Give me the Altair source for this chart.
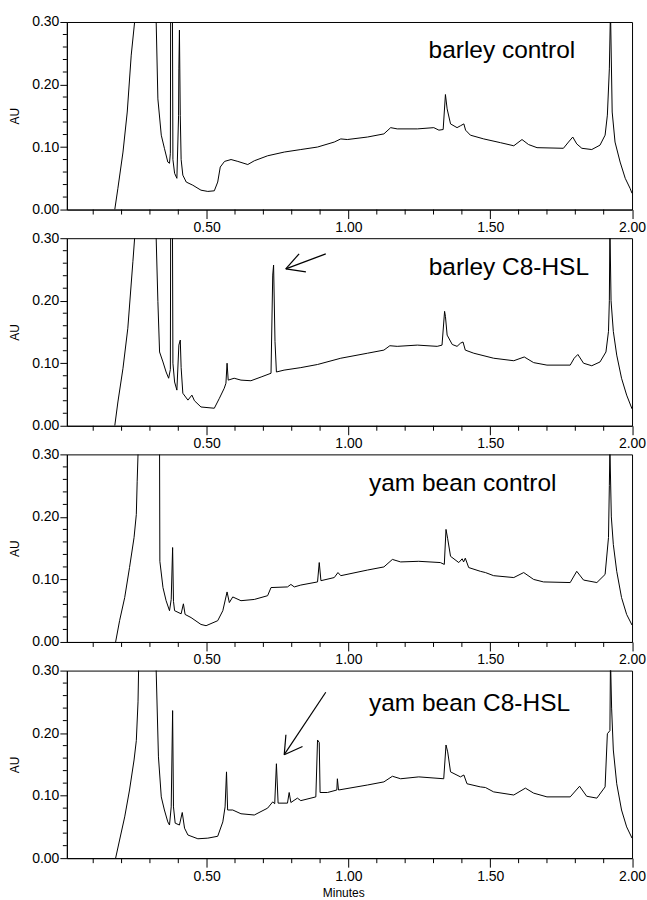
import altair as alt
import pandas as pd

# ---------------- data ----------------
p1_t = [0.176, 0.187, 0.205, 0.220, 0.234, 0.246, 0.250, 0.285, 0.318, 0.322, 0.328, 0.340, 0.351, 0.363, 0.369,
        0.372, 0.3745, 0.3775, 0.381, 0.387, 0.395, 0.401, 0.402, 0.404, 0.407, 0.410, 0.416, 0.428, 0.451, 0.480,
        0.504, 0.527, 0.539, 0.548, 0.563, 0.586, 0.610, 0.645, 0.668, 0.715, 0.774, 0.832, 0.891, 0.950, 0.973,
        0.996, 1.067, 1.125, 1.149, 1.172, 1.243, 1.301, 1.319, 1.334, 1.342, 1.348, 1.360, 1.383, 1.395, 1.407,
        1.413, 1.430, 1.477, 1.536, 1.583, 1.612, 1.635, 1.665, 1.758, 1.776, 1.791, 1.805, 1.823, 1.858, 1.887,
        1.905, 1.913, 1.920, 1.924, 1.930, 1.940, 1.958, 1.976, 1.993, 2.000]
p1_au = [0.000, 0.034, 0.092, 0.156, 0.247, 0.300, 0.500, 2.000, 0.500, 0.300, 0.177, 0.119, 0.098, 0.076, 0.074,
         0.090, 0.600, 0.600, 0.080, 0.058, 0.050, 0.150, 0.225, 0.287, 0.150, 0.080, 0.055, 0.044, 0.039, 0.031,
         0.029, 0.030, 0.044, 0.068, 0.077, 0.080, 0.077, 0.072, 0.078, 0.086, 0.092, 0.096, 0.100, 0.108, 0.113,
         0.112, 0.116, 0.121, 0.131, 0.129, 0.129, 0.131, 0.127, 0.128, 0.184, 0.161, 0.137, 0.131, 0.134, 0.137,
         0.127, 0.119, 0.113, 0.107, 0.102, 0.112, 0.104, 0.099, 0.098, 0.108, 0.116, 0.105, 0.098, 0.096, 0.103,
         0.119, 0.151, 0.225, 0.320, 0.156, 0.108, 0.076, 0.050, 0.034, 0.026]

p2_t = [0.176, 0.187, 0.205, 0.222, 0.240, 0.246, 0.250, 0.285, 0.318, 0.322, 0.328, 0.334, 0.346, 0.357, 0.366,
        0.372, 0.3745, 0.3775, 0.381, 0.387, 0.395, 0.402, 0.407, 0.410, 0.416, 0.434, 0.448, 0.457, 0.480, 0.527,
        0.545, 0.562, 0.568, 0.572, 0.576, 0.597, 0.621, 0.656, 0.692, 0.727, 0.733, 0.736, 0.741, 0.746, 0.773,
        0.832, 0.891, 0.973, 1.067, 1.125, 1.146, 1.172, 1.243, 1.313, 1.330, 1.339, 1.342, 1.348, 1.366, 1.383,
        1.395, 1.404, 1.412, 1.442, 1.512, 1.583, 1.620, 1.653, 1.700, 1.782, 1.796, 1.809, 1.829, 1.858, 1.887,
        1.908, 1.917, 1.920, 1.922, 1.926, 1.934, 1.946, 1.963, 1.981, 2.000]
p2_au = [0.000, 0.038, 0.092, 0.156, 0.263, 0.300, 0.500, 2.000, 0.500, 0.300, 0.199, 0.118, 0.102, 0.086, 0.076,
         0.090, 0.600, 0.600, 0.100, 0.070, 0.057, 0.129, 0.137, 0.093, 0.052, 0.041, 0.049, 0.040, 0.030, 0.028,
         0.044, 0.060, 0.068, 0.100, 0.073, 0.076, 0.073, 0.072, 0.078, 0.084, 0.241, 0.257, 0.135, 0.086, 0.089,
         0.093, 0.098, 0.108, 0.116, 0.121, 0.128, 0.127, 0.129, 0.127, 0.129, 0.183, 0.175, 0.145, 0.130, 0.127,
         0.132, 0.134, 0.121, 0.116, 0.108, 0.104, 0.110, 0.101, 0.097, 0.097, 0.108, 0.114, 0.100, 0.096, 0.102,
         0.118, 0.151, 0.200, 0.320, 0.200, 0.151, 0.113, 0.076, 0.049, 0.027]

p3_t = [0.179, 0.193, 0.211, 0.228, 0.244, 0.252, 0.255, 0.258, 0.262, 0.295, 0.333, 0.334, 0.335, 0.346, 0.357,
        0.369, 0.375, 0.380, 0.383, 0.387, 0.410, 0.418, 0.424, 0.445, 0.480, 0.498, 0.539, 0.557, 0.572, 0.580,
        0.592, 0.621, 0.668, 0.715, 0.727, 0.785, 0.797, 0.809, 0.832, 0.891, 0.897, 0.903, 0.950, 0.963, 0.973,
        1.067, 1.125, 1.155, 1.184, 1.248, 1.324, 1.338, 1.344, 1.350, 1.360, 1.389, 1.401, 1.406, 1.412, 1.424,
        1.465, 1.483, 1.512, 1.583, 1.618, 1.653, 1.688, 1.782, 1.805, 1.829, 1.876, 1.905, 1.917, 1.920, 1.922,
        1.927, 1.934, 1.946, 1.963, 1.981, 2.000]
p3_au = [0.000, 0.034, 0.071, 0.119, 0.167, 0.204, 0.257, 0.300, 0.500, 2.000, 0.500, 0.300, 0.129, 0.087, 0.066,
         0.050, 0.068, 0.151, 0.065, 0.050, 0.045, 0.061, 0.044, 0.039, 0.028, 0.026, 0.034, 0.050, 0.080, 0.063,
         0.072, 0.066, 0.068, 0.074, 0.087, 0.088, 0.092, 0.088, 0.091, 0.096, 0.127, 0.098, 0.103, 0.111, 0.106,
         0.115, 0.120, 0.132, 0.128, 0.129, 0.127, 0.124, 0.180, 0.165, 0.137, 0.127, 0.133, 0.128, 0.134, 0.119,
         0.113, 0.111, 0.106, 0.103, 0.111, 0.100, 0.096, 0.095, 0.113, 0.099, 0.095, 0.108, 0.167, 0.250, 0.310,
         0.200, 0.156, 0.113, 0.071, 0.044, 0.027]

p4_t = [0.179, 0.193, 0.211, 0.228, 0.244, 0.252, 0.258, 0.260, 0.264, 0.290, 0.318, 0.322, 0.330, 0.340, 0.351,
        0.363, 0.369, 0.375, 0.380, 0.383, 0.389, 0.404, 0.414, 0.422, 0.434, 0.469, 0.504, 0.539, 0.557, 0.565,
        0.570, 0.574, 0.592, 0.621, 0.668, 0.715, 0.733, 0.740, 0.746, 0.752, 0.785, 0.791, 0.797, 0.820, 0.832,
        0.885, 0.891, 0.897, 0.900, 0.926, 0.959, 0.961, 0.965, 1.067, 1.125, 1.155, 1.184, 1.248, 1.336, 1.344,
        1.350, 1.360, 1.395, 1.407, 1.418, 1.465, 1.483, 1.512, 1.583, 1.624, 1.653, 1.700, 1.782, 1.815, 1.840,
        1.876, 1.905, 1.913, 1.922, 1.924, 1.928, 1.934, 1.946, 1.963, 1.981, 2.000]
p4_au = [0.000, 0.029, 0.066, 0.109, 0.157, 0.188, 0.250, 0.300, 0.500, 2.000, 0.500, 0.300, 0.162, 0.098, 0.077,
         0.058, 0.053, 0.082, 0.236, 0.082, 0.056, 0.053, 0.073, 0.048, 0.037, 0.031, 0.032, 0.035, 0.058, 0.082,
         0.138, 0.077, 0.077, 0.071, 0.069, 0.080, 0.090, 0.087, 0.151, 0.088, 0.088, 0.105, 0.089, 0.096, 0.092,
         0.098, 0.189, 0.185, 0.105, 0.105, 0.109, 0.127, 0.109, 0.117, 0.122, 0.131, 0.127, 0.130, 0.127, 0.181,
         0.170, 0.138, 0.130, 0.133, 0.119, 0.114, 0.113, 0.106, 0.101, 0.112, 0.104, 0.098, 0.098, 0.115, 0.099,
         0.096, 0.114, 0.199, 0.204, 0.320, 0.240, 0.173, 0.119, 0.077, 0.050, 0.032]

panel_labels = ["barley control", "barley C8-HSL", "yam bean control", "yam bean C8-HSL"]
label_t = [1.2825, 1.283, 1.0725, 1.0725]
label_au = [0.2426, 0.2415, 0.241, 0.236]

# arrow segments (t, au, t2, au2) per panel
arrows = {
    1: [(0.920, 0.275, 0.779, 0.251), (0.826, 0.275, 0.779, 0.251), (0.850, 0.246, 0.779, 0.251)],
    3: [(0.920, 0.2654, 0.7735, 0.1655), (0.7795, 0.1974, 0.7735, 0.1655), (0.838, 0.1787, 0.7735, 0.1655)],
}

x_major_ticks = [0.5, 1.0, 1.5, 2.0]
x_minor_ticks = [0.1, 0.2, 0.3, 0.4, 0.6, 0.7, 0.8, 0.9, 1.1, 1.2, 1.3, 1.4, 1.6, 1.7, 1.8, 1.9]
y_major_ticks = [0.0, 0.1, 0.2, 0.3]
y_minor_ticks = [0.02, 0.04, 0.06, 0.08, 0.12, 0.14, 0.16, 0.18, 0.22, 0.24, 0.26, 0.28]

series = [(p1_t, p1_au), (p2_t, p2_au), (p3_t, p3_au), (p4_t, p4_au)]

W, H = 566.5, 188
FONT = "Liberation Sans"
X_MINOR_LEN, Y_MINOR_LEN = 5, 4


def make_panel(i):
    ts, aus = series[i]
    df = pd.DataFrame({"t": ts, "au": aus})
    last = i == 3
    xaxis = alt.Axis(
        values=x_major_ticks,
        format=".2f",
        tickSize=9,
        labelOverlap=False,
        labelFlush=False,
        labelPadding=2,
        grid=False,
        titleFontSize=12,
        titleFont=FONT,
        titleFontWeight="normal",
        titlePadding=4,
        titleX=277,
    )
    yaxis = alt.Axis(
        values=y_major_ticks,
        format=".2f",
        tickSize=7,
        labelOverlap=False,
        labelFlush=False,
        labelPadding=1,
        grid=False,
        titleFontSize=12,
        titleFont=FONT,
        titleFontWeight="normal",
        titlePadding=10.5,
    )
    xs = alt.Scale(domain=[0.007, 2.0], nice=False, zero=False)
    ys = alt.Scale(domain=[0.0, 0.3], nice=False)
    line = alt.Chart(df).mark_line(color="black", strokeWidth=1, clip=True).encode(
        x=alt.X("t:Q", scale=xs, axis=xaxis, title="Minutes" if last else None),
        y=alt.Y("au:Q", scale=ys, axis=yaxis, title="AU"),
    )
    # minor ticks (data-driven through the shared scales)
    xmin_df = pd.DataFrame({"t": x_minor_ticks})
    xminor = alt.Chart(xmin_df).mark_rule(color="black", strokeWidth=1).encode(
        x="t:Q", y=alt.value(H), y2=alt.value(H + X_MINOR_LEN))
    ymin_df = pd.DataFrame({"au": y_minor_ticks})
    yminor = alt.Chart(ymin_df).mark_rule(color="black", strokeWidth=1).encode(
        y="au:Q", x=alt.value(0), x2=alt.value(-Y_MINOR_LEN))
    tdf = pd.DataFrame({"t": [label_t[i]], "au": [label_au[i]], "txt": [panel_labels[i]]})
    text = alt.Chart(tdf).mark_text(align="left", baseline="alphabetic", fontSize=24.5, font=FONT,
                                    color="black").encode(
        x="t:Q", y="au:Q", text="txt:N")
    layers = [line, xminor, yminor, text]
    if i in arrows:
        segs = arrows[i]
        adf = pd.DataFrame({"t": [s[0] for s in segs], "au": [s[1] for s in segs],
                            "t2": [s[2] for s in segs], "au2": [s[3] for s in segs]})
        arr = alt.Chart(adf).mark_rule(color="black", strokeWidth=1.2).encode(
            x="t:Q", y="au:Q", x2="t2:Q", y2="au2:Q")
        layers.append(arr)
    return alt.layer(*layers).properties(width=W, height=H)


chart = alt.vconcat(*[make_panel(i) for i in range(4)], spacing=28.7, bounds="flush").properties(
    padding={"left": 7, "top": 13, "right": 0, "bottom": 0}
).configure_view(stroke="black", strokeWidth=1).configure_axis(
    domainColor="black", tickColor="black", labelColor="black", titleColor="black",
    labelFont=FONT, labelFontSize=14, domainWidth=1, tickWidth=1,
)

chart.save("out.html", embed_options={"renderer": "svg", "actions": False})
